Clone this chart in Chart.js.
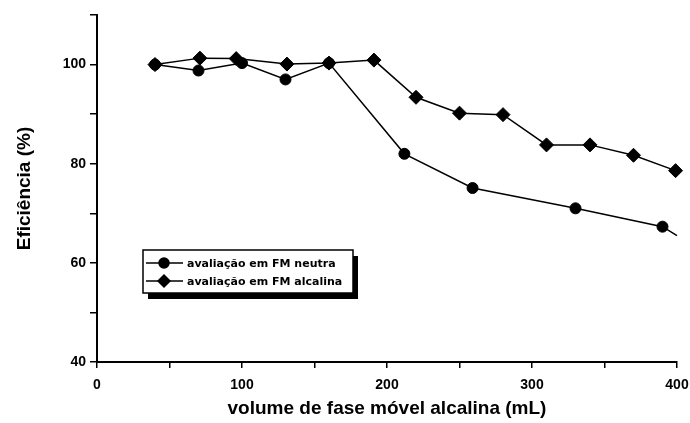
<!DOCTYPE html>
<html>
<head>
<meta charset="utf-8">
<script src="https://cdn.jsdelivr.net/npm/chart.js@4.4.1/dist/chart.umd.min.js"></script>
<style>
  html, body { margin: 0; padding: 0; background: #fff; }
  #wrap { width: 690px; height: 423px; position: relative; }
</style>
</head>
<body>
<div id="wrap"><canvas id="effChart"></canvas></div>
<script>
// volume (mL) vs efficiency (%) for the two mobile-phase evaluations
const neutralX = [40, 70, 100, 130, 160, 212, 259, 330, 390, 400];
const neutralY = [100, 98.8, 100.3, 97.0, 100.3, 82.0, 75.1, 71.0, 67.3, 65.5];
const alkalineX = [40, 71, 96, 131, 160, 191, 220, 250, 280, 310, 340, 370, 399];
const alkalineY = [100, 101.3, 101.2, 100.1, 100.3, 100.9, 93.4, 90.2, 89.9, 83.8, 83.8, 81.7, 78.6];
const seriesLabels = ['avaliação em FM neutra', 'avaliação em FM alcalina'];
const xTickLabels = [0, 100, 200, 300, 400];
const yTickLabels = [40, 60, 80, 100];

const toPoints = (xs, ys) => xs.map((x, i) => ({ x, y: ys[i] }));

// the neutral trace runs on to the axis end without a marker there
const neutralRadius = neutralX.map((x, i) => (i === neutralX.length - 1 ? 0 : 5.5));

const tickFont = { family: 'Liberation Sans', size: 14, weight: 'bold' };

// boxed legend with a drop shadow, drawn inside the plot area
const boxLegend = {
  id: 'boxLegend',
  afterDraw(chart) {
    const ctx = chart.ctx;
    const area = chart.chartArea;
    const x = area.left + 46, y = area.top + 235, w = 210, h = 43;
    ctx.save();
    ctx.fillStyle = '#000';
    ctx.fillRect(x + 5, y + 6, w, h);
    ctx.fillStyle = '#fff';
    ctx.fillRect(x, y, w, h);
    ctx.strokeStyle = '#000';
    ctx.lineWidth = 1.5;
    ctx.strokeRect(x, y, w, h);
    ctx.font = 'bold 11px "DejaVu Sans"';
    ctx.textBaseline = 'middle';
    chart.data.datasets.forEach((ds, i) => {
      const ry = y + 13 + i * 18;
      ctx.beginPath();
      ctx.moveTo(x + 3, ry);
      ctx.lineTo(x + 40, ry);
      ctx.lineWidth = 1.5;
      ctx.strokeStyle = '#000';
      ctx.stroke();
      ctx.fillStyle = '#000';
      Chart.helpers.drawPoint(ctx, {
        pointStyle: ds.pointStyle, radius: i === 0 ? 5 : 6, borderWidth: 1
      }, x + 21, ry);
      ctx.fillText(ds.label, x + 44, ry + 1);
    });
    ctx.restore();
  }
};

new Chart(document.getElementById('effChart'), {
  type: 'scatter',
  data: {
    datasets: [
      {
        label: seriesLabels[0],
        data: toPoints(neutralX, neutralY),
        showLine: true,
        clip: false,
        borderColor: '#000',
        backgroundColor: '#000',
        borderWidth: 1.5,
        pointStyle: 'circle',
        pointRadius: neutralRadius,
        pointBorderWidth: 1
      },
      {
        label: seriesLabels[1],
        data: toPoints(alkalineX, alkalineY),
        showLine: true,
        clip: false,
        borderColor: '#000',
        backgroundColor: '#000',
        borderWidth: 1.5,
        pointStyle: 'rectRot',
        pointRadius: 7,
        pointBorderWidth: 1
      }
    ]
  },
  options: {
    responsive: true,
    maintainAspectRatio: false,
    animation: false,
    layout: { padding: { top: 15, right: 13, left: 0, bottom: 0 } },
    plugins: {
      legend: { display: false },
      tooltip: { enabled: false }
    },
    scales: {
      x: {
        type: 'linear',
        min: 0,
        max: 400,
        // fixed band height; keep the end labels from pushing the plot area in
        afterFit: (scale) => {
          scale.height = 61;
          scale.paddingLeft = 0;
          scale.paddingRight = 0;
        },
        border: { display: true, color: '#000', width: 2 },
        grid: { drawOnChartArea: false, drawTicks: true, tickLength: 6, color: '#000', lineWidth: 1.5 },
        ticks: {
          stepSize: 50,
          color: '#000',
          font: tickFont,
          padding: 9,
          maxRotation: 0,
          callback: (v) => (xTickLabels.includes(v) ? v : '')
        },
        title: {
          display: true,
          text: 'volume de fase móvel alcalina (mL)',
          color: '#000',
          font: { family: 'Liberation Sans', size: 19, weight: 'bold' },
          padding: { top: 0, bottom: 3 }
        }
      },
      y: {
        min: 40,
        max: 110,
        afterFit: (scale) => {
          scale.width = 97;
          scale.paddingTop = 0;
          scale.paddingBottom = 0;
        },
        border: { display: true, color: '#000', width: 2 },
        grid: { drawOnChartArea: false, drawTicks: true, tickLength: 7, color: '#000', lineWidth: 1.5 },
        ticks: {
          stepSize: 10,
          color: '#000',
          font: tickFont,
          padding: 4,
          callback: (v) => (yTickLabels.includes(v) ? v : '')
        },
        title: {
          display: true,
          text: 'Eficiência (%)',
          color: '#000',
          font: { family: 'Liberation Sans', size: 19, weight: 'bold' },
          padding: { top: 13, bottom: 0 }
        }
      }
    }
  },
  plugins: [boxLegend]
});
</script>
</body>
</html>
